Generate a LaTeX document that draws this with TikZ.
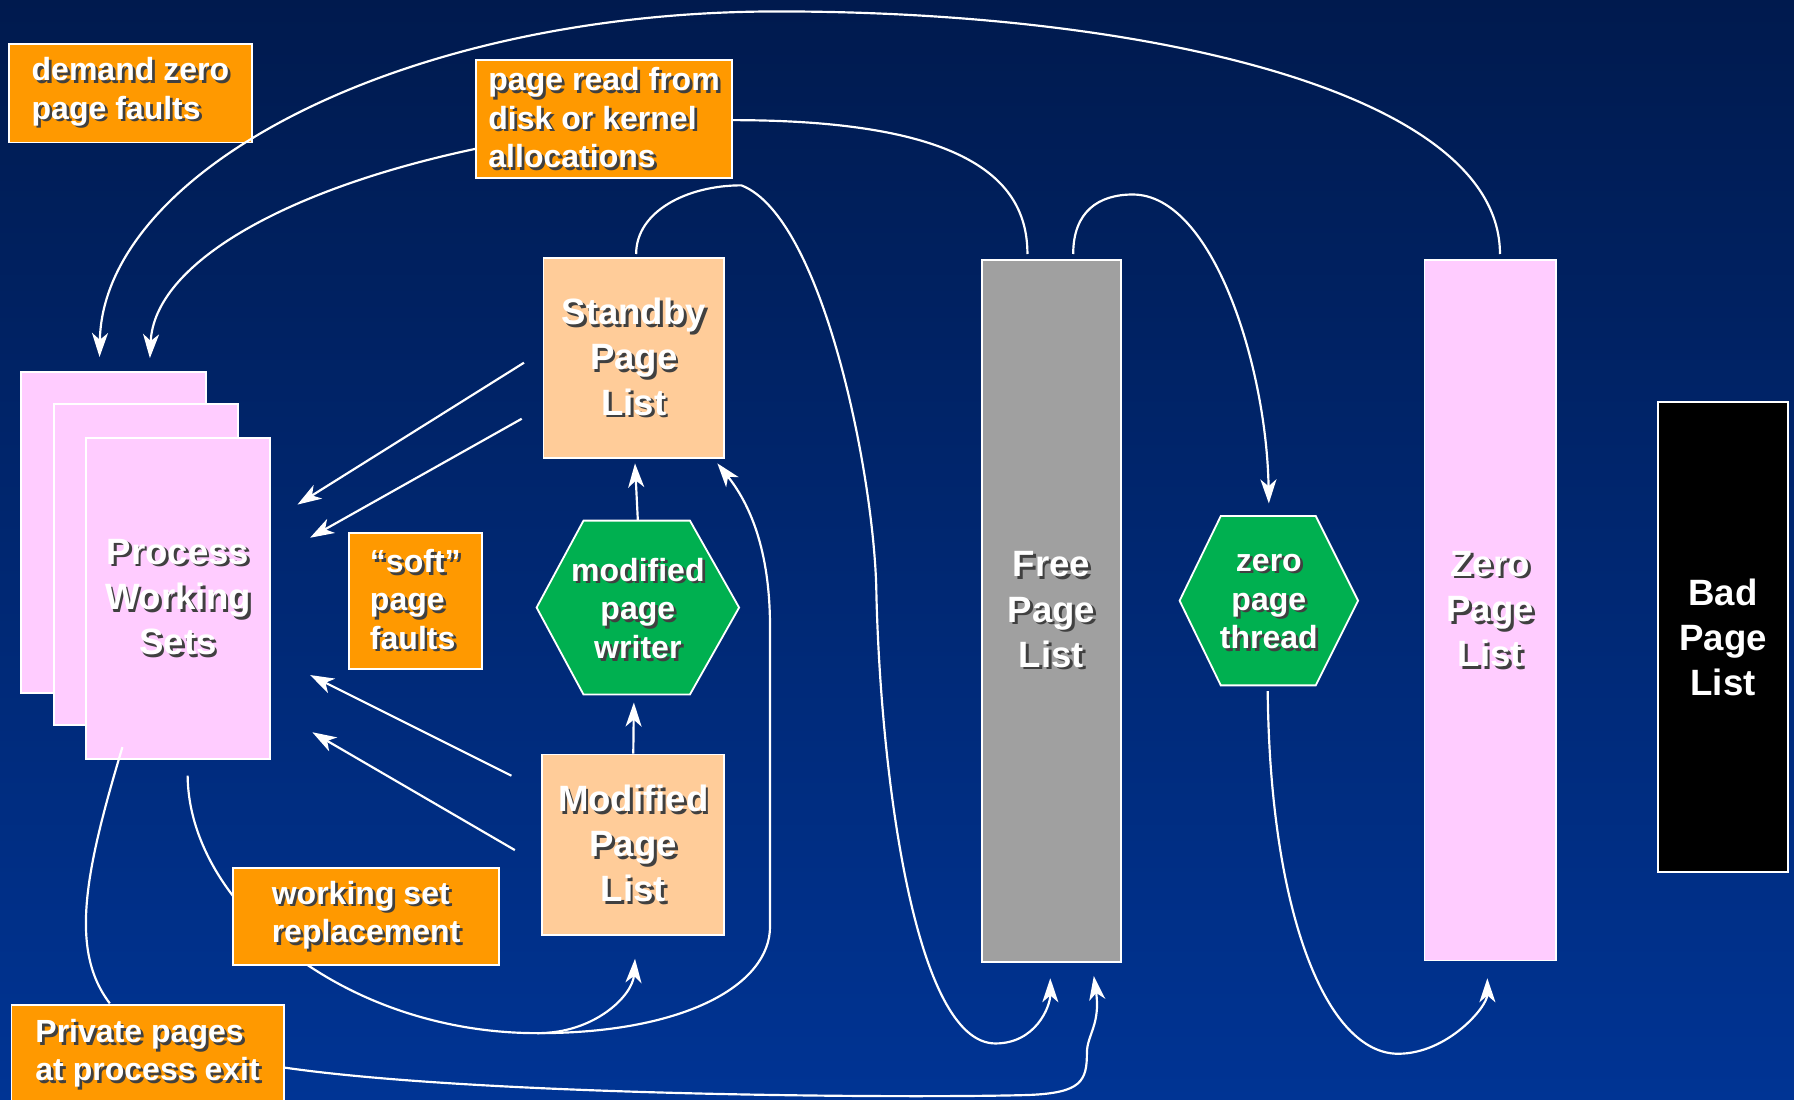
\documentclass[tikz,border=0pt]{standalone}
\usepackage{fontspec}
\setmainfont{Liberation Sans}
\usetikzlibrary{arrows.meta}

\definecolor{bgtop}{RGB}{0,26,78}
\definecolor{bgbot}{RGB}{0,52,148}
\definecolor{labelorange}{RGB}{255,153,0}
\definecolor{listpeach}{RGB}{255,204,153}
\definecolor{listpink}{RGB}{255,204,255}
\definecolor{listgray}{RGB}{160,160,160}
\definecolor{threadgreen}{RGB}{0,176,80}

% white lettering with a dark drop shadow
\newcommand\shd[1]{\makebox[0pt][l]{\hspace{2.4pt}\raisebox{-2.4pt}{\textcolor{black!75}{#1}}}#1}

\begin{document}
\begin{tikzpicture}[x=1pt,y=-1pt,
  boxframe/.style={draw=white, line width=1.6pt, inner sep=0pt, text=white},
  listbox/.style={boxframe, align=center, font=\fontsize{32}{39.5}\selectfont\bfseries},
  notebox/.style={boxframe, fill=labelorange, align=left,
    font=\fontsize{28}{33.5}\selectfont\bfseries},
  hexbox/.style={draw=white, line width=1.6pt, fill=threadgreen},
  hextext/.style={inner sep=0pt, text=white, align=center,
    font=\fontsize{28}{34}\selectfont\bfseries},
  flow/.style={draw=white, line width=1.9pt},
  flowto/.style={flow, -{Stealth[length=21pt,width=14pt,inset=6pt]}}
]
\useasboundingbox (0,0) rectangle (1568,961);
\shade[top color=bgtop, bottom color=bgbot] (0,0) rectangle (1568,961);

% ---- page lists ----
\node[listbox, fill=listpink, minimum width=162, minimum height=281] (pwsA) at (99,465.5) {};
\node[listbox, fill=listpink, minimum width=161, minimum height=281] (pwsB) at (127.5,493.5) {};
\node[listbox, fill=listpink, minimum width=161, minimum height=281] (pws) at (155.5,523)
  {\shd{Process}\\\shd{Working}\\\shd{Sets}};
\node[listbox, fill=listpeach, minimum width=158, minimum height=175] (standby) at (554,313)
  {\shd{Standby}\\\shd{Page}\\\shd{List}};
\node[listbox, fill=listpeach, minimum width=159, minimum height=158] (modified) at (553.5,738.5)
  {\shd{Modified}\\\shd{Page}\\\shd{List}};
\node[listbox, fill=listgray, minimum width=122, minimum height=613] (free) at (919,534)
  {\shd{Free}\\\shd{Page}\\\shd{List}};
\node[listbox, fill=listpink, minimum width=115, minimum height=612] (zerol) at (1302.5,533.5)
  {\shd{Zero}\\\shd{Page}\\\shd{List}};
\node[listbox, fill=black, minimum width=114, minimum height=411] (bad) at (1506,557)
  {Bad\\Page\\List};

% ---- threads ----
\draw[hexbox] (469,531) -- (510,455) -- (603,455) -- (646,531) -- (603,607) -- (510,607) -- cycle;
\node[hextext, minimum width=177, minimum height=152] (mpw) at (557.5,533)
  {\shd{modified}\\\shd{page}\\\shd{writer}};
\draw[hexbox] (1031,525) -- (1067,451) -- (1150,451) -- (1187,525) -- (1150,599) -- (1067,599) -- cycle;
\node[hextext, minimum width=156, minimum height=148] (zpt) at (1109,527)
  {\shd{zero}\\\shd{page}\\\shd{thread}};

% ---- annotations ----
\node[notebox, minimum width=212, minimum height=86] (demand) at (114,81.5)
  {\shd{demand zero}\\\shd{page faults}};
\node[notebox, minimum width=224, minimum height=103] (pageread) at (528,104)
  {\shd{page read from}\\\shd{disk or kernel}\\\shd{allocations}};
\node[notebox, minimum width=116, minimum height=119] (soft) at (363,525)
  {\shd{“soft”}\\\shd{page}\\\shd{faults}};
\node[notebox, minimum width=238, minimum height=87] (priv) at (129,922)
  {\shd{Private pages}\\\shd{at process exit}};

% ---- connector end points ----
\coordinate (zlTop) at (1311,222);
\coordinate (arcTop) at (680,10);
\coordinate (pwsInA) at (87,312);
\coordinate (prOut) at (416,130);
\coordinate (pwsInB) at (131,313);
\coordinate (prRight) at (640,105);
\coordinate (flTopA) at (898,222);
\coordinate (sbTop) at (556,222);
\coordinate (sbHump) at (648,162);
\coordinate (sbFall) at (766,520);
\coordinate (flLoop) at (870,912);
\coordinate (flInA) at (918,855);
\coordinate (flTopB) at (938,222);
\coordinate (flHump) at (990,170);
\coordinate (zptIn) at (1109,440);
\coordinate (zptOut) at (1108,604);
\coordinate (zlLoop) at (1222,921);
\coordinate (zlIn) at (1300,855);
\coordinate (sbIn) at (555,405);
\coordinate (mpwIn) at (554,614);
\coordinate (sbOutA) at (458,317);
\coordinate (pwsInC) at (260,441);
\coordinate (sbOutB) at (456,366);
\coordinate (pwsInD) at (271,470);
\coordinate (mdOutA) at (447,678);
\coordinate (pwsInE) at (271,590);
\coordinate (mdOutB) at (450,743);
\coordinate (pwsInF) at (273,640);
\coordinate (pwsOut) at (164,678);
\coordinate (wsLoop) at (470,903);
\coordinate (mdIn) at (555,838);
\coordinate (mdSide) at (673,810);
\coordinate (mdSideTop) at (673,548);
\coordinate (sbInB) at (627,405);
\coordinate (pwsExit) at (107,653);
\coordinate (privIn) at (96,877);
\coordinate (privOut) at (248,933);
\coordinate (bottomRun) at (900,957);
\coordinate (flKink) at (950,920);
\coordinate (flInB) at (956,853);

% ---- connectors ----
\draw[flowto] (zlTop) .. controls (1311,80) and (1000,10) .. (arcTop)
  .. controls (350,10) and (90,150) .. (pwsInA);
\draw[flowto] (prOut) .. controls (250,165) and (135,230) .. (pwsInB);
\draw[flow] (prRight) .. controls (850,105) and (898,160) .. (flTopA);
\draw[flowto] (sbTop) .. controls (556,185) and (600,162) .. (sbHump)
  .. controls (720,190) and (765,420) .. (sbFall)
  .. controls (770,680) and (800,912) .. (flLoop)
  .. controls (905,912) and (918,880) .. (flInA);
\draw[flowto] (flTopB) .. controls (938,185) and (960,170) .. (flHump)
  .. controls (1060,170) and (1107,320) .. (zptIn);
\draw[flowto] (zptOut) .. controls (1110,800) and (1160,921) .. (zlLoop)
  .. controls (1265,921) and (1300,880) .. (zlIn);
\draw[flowto] (mpw.north |- 0,455) -- (sbIn);
\draw[flowto] (modified.north) -- (mpwIn);
\draw[flowto] (sbOutA) -- (pwsInC);
\draw[flowto] (sbOutB) -- (pwsInD);
\draw[flowto] (mdOutA) -- (pwsInE);
\draw[flowto] (mdOutB) -- (pwsInF);
\draw[flowto] (pwsOut) .. controls (165,790) and (300,903) .. (wsLoop)
  .. controls (520,903) and (553,870) .. (mdIn);
\draw[flowto] (wsLoop) .. controls (600,903) and (673,860) .. (mdSide) -- (mdSideTop)
  .. controls (673,480) and (655,440) .. (sbInB);
\draw[flow] (pwsExit) .. controls (75,760) and (60,830) .. (privIn);
\draw[flowto] (privOut) .. controls (420,958) and (800,960) .. (bottomRun)
  .. controls (945,955) and (950,945) .. (flKink)
  .. controls (950,905) and (962,895) .. (flInB);

% drawn last so that it covers the replacement loop
\node[notebox, minimum width=232, minimum height=85] (wsr) at (320,801)
  {\shd{working set}\\\shd{replacement}};
\end{tikzpicture}
\end{document}
